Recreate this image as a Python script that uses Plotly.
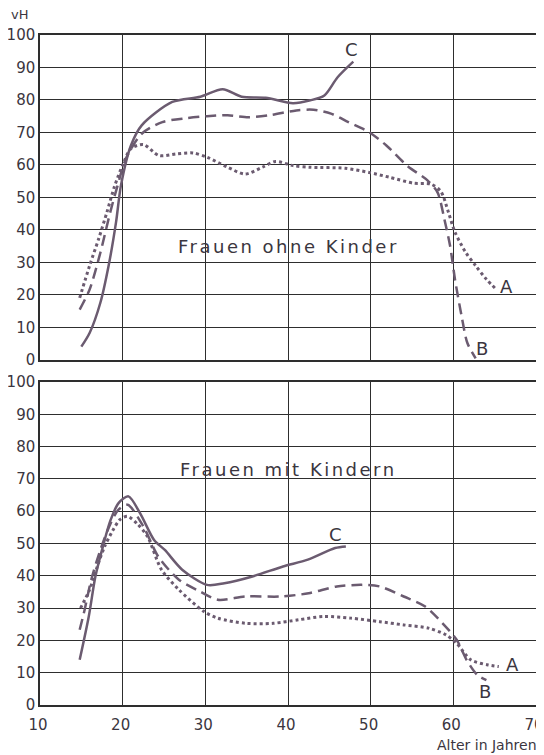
import plotly.graph_objects as go
from plotly.subplots import make_subplots

# ---- Data: Frauen ohne Kinder (top) ----
top_A_age = [14.8, 16.0, 17.1, 18.1, 19.0, 20.0, 21.0, 22.5, 24.4, 26.5, 28.5, 30.2, 32.7, 34.8, 36.9, 38.5,
             40.6, 42.7, 46.9, 49.8, 52.3, 55.2, 57.3, 58.5, 59.4, 60.2, 61.5, 62.7, 64.0, 65.2]
top_A_val = [19.1, 29.0, 37.3, 45.5, 53.3, 60.0, 65.0, 66.3, 62.9, 63.4, 63.7, 62.4, 59.3, 57.2, 59.3, 61.1,
             59.8, 59.3, 59.0, 57.7, 56.2, 54.4, 54.1, 51.8, 45.5, 39.3, 33.1, 29.0, 24.8, 21.7]
top_B_age = [14.8, 16.0, 17.3, 18.5, 19.4, 20.4, 22.3, 24.8, 27.7, 30.2, 32.7, 35.2, 37.7, 41.0, 43.1, 45.2,
             47.3, 49.8, 51.9, 54.4, 56.9, 58.1, 58.9, 59.6, 60.2, 61.0, 61.7, 62.7]
top_B_val = [15.5, 21.7, 33.0, 45.5, 53.8, 62.0, 69.6, 73.2, 74.4, 75.0, 75.3, 74.7, 75.3, 76.8, 77.0, 75.8,
             73.2, 70.1, 66.0, 59.8, 55.2, 51.5, 43.5, 35.2, 24.8, 13.5, 5.2, 0.5]
top_C_age = [15.0, 16.0, 17.3, 18.3, 19.2, 19.8, 21.0, 22.3, 26.0, 29.4, 32.1, 34.4, 37.3, 40.6, 42.7, 44.4,
             46.0, 47.9]
top_C_val = [4.1, 8.3, 17.6, 29.0, 42.4, 53.8, 66.0, 72.2, 79.4, 81.0, 83.3, 81.0, 80.7, 79.0, 79.9, 81.4,
             87.0, 91.8]

# ---- Data: Frauen mit Kindern (bottom) ----
bot_A_age = [14.9, 16.0, 16.8, 17.8, 18.8, 19.7, 20.6, 21.8, 23.0, 24.7, 26.8, 29.8, 31.5, 34.9, 38.2, 41.3,
             44.3, 47.6, 51.1, 54.0, 57.0, 59.1, 60.4, 62.1, 64.2, 65.5]
bot_A_val = [30.0, 35.7, 41.9, 49.0, 54.0, 57.5, 58.4, 56.0, 52.2, 41.9, 35.7, 29.0, 26.9, 25.3, 25.3, 26.4,
             27.4, 26.9, 25.8, 24.8, 23.8, 21.7, 19.1, 14.0, 12.4, 11.9]
bot_B_age = [14.8, 15.4, 16.2, 17.3, 18.5, 19.5, 20.6, 22.5, 24.3, 26.8, 29.4, 31.5, 34.9, 39.1, 42.5, 45.9,
             48.9, 51.1, 54.0, 56.6, 58.7, 60.4, 61.6, 62.9, 64.0]
bot_B_val = [23.3, 29.5, 38.8, 48.0, 56.0, 60.5, 62.0, 55.3, 46.0, 38.8, 35.1, 32.6, 33.6, 33.6, 34.6, 36.7,
             37.2, 36.7, 33.6, 30.5, 25.3, 20.2, 14.0, 9.3, 7.7]
bot_C_age = [14.8, 15.9, 16.7, 17.5, 18.5, 19.5, 20.7, 22.1, 23.8, 25.1, 27.2, 30.2, 32.3, 35.7, 39.4, 42.4,
             45.7, 47.0]
bot_C_val = [14.0, 27.4, 39.8, 48.0, 57.0, 62.5, 64.6, 59.4, 51.1, 48.0, 41.9, 37.2, 37.7, 39.8, 42.9, 45.0,
             48.6, 49.1]

x_ticks = [10, 20, 30, 40, 50, 60, 70]
y_ticks = [0, 10, 20, 30, 40, 50, 60, 70, 80, 90, 100]

LINE = "#6b5b70"
GRID = "#2e2e2e"
TXT = "#3b3640"
FONT = "DejaVu Sans"

fig = make_subplots(rows=2, cols=1, vertical_spacing=0.033)

styles = {
    "A": dict(color=LINE, width=3, dash="dot"),
    "B": dict(color=LINE, width=2.5, dash="11px,6px"),
    "C": dict(color=LINE, width=2.5, dash="solid"),
}

for row, series in [(1, [("A", top_A_age, top_A_val), ("B", top_B_age, top_B_val), ("C", top_C_age, top_C_val)]),
                    (2, [("A", bot_A_age, bot_A_val), ("B", bot_B_age, bot_B_val), ("C", bot_C_age, bot_C_val)])]:
    for name, xs, ys in series:
        fig.add_trace(go.Scatter(x=xs, y=ys, mode="lines", name=name, showlegend=False,
                                 line=dict(shape="spline", smoothing=0.8, **styles[name])),
                      row=row, col=1)

for r in (1, 2):
    fig.update_xaxes(range=[10, 70], tickvals=x_ticks, showgrid=True, gridcolor=GRID, gridwidth=1.2,
                     showline=True, linecolor=GRID, linewidth=1.5, mirror=True, zeroline=False,
                     ticks="", ticklabelstandoff=5, ticklabelshift=-2, automargin=False,
                     tickfont=dict(family=FONT, size=15, color=TXT), row=r, col=1)
    fig.update_yaxes(range=[0, 100], tickvals=y_ticks, showgrid=True, gridcolor=GRID, gridwidth=1.2,
                     showline=True, linecolor=GRID, linewidth=1.5, mirror=True, zeroline=False,
                     ticks="", automargin=False,
                     tickfont=dict(family=FONT, size=15, color=TXT), row=r, col=1)
fig.update_xaxes(showticklabels=False, row=1, col=1)

# the page body adds an 8px offset; margins compensate for it
fig.update_layout(
    width=544, height=755,
    margin=dict(l=32, r=16, t=27, b=58),
    paper_bgcolor="#ffffff", plot_bgcolor="#ffffff",
    font=dict(family=FONT, color=TXT),
)
fig.update_layout(yaxis=dict(domain=[0.515, 1.0]), yaxis2=dict(domain=[0.0, 0.482]))

ann = []
title_font = dict(family=FONT, size=18, color=TXT)
ann.append(dict(x=40.1, y=35.0, xref="x", yref="y",
                text='<span style="letter-spacing:2.5px">Frauen ohne Kinder</span>',
                showarrow=False, font=title_font))
ann.append(dict(x=40.0, y=73.0, xref="x2", yref="y2",
                text='<span style="letter-spacing:2.5px">Frauen mit Kindern</span>',
                showarrow=False, font=title_font))
for (x, y, t, xr, yr) in [(66.4, 22.5, "A", "x", "y"), (63.5, 3.6, "B", "x", "y"), (47.7, 95.4, "C", "x", "y"),
                          (67.1, 12.4, "A", "x2", "y2"), (63.8, 4.2, "B", "x2", "y2"), (45.8, 52.7, "C", "x2", "y2")]:
    ann.append(dict(x=x, y=y, xref=xr, yref=yr, text=t, showarrow=False,
                    font=dict(family=FONT, size=18, color=TXT)))
ann.append(dict(x=-0.062, y=1.03, xref="paper", yref="paper", text="vH", showarrow=False,
                xanchor="left", yanchor="middle", font=dict(family=FONT, size=13, color=TXT)))
ann.append(dict(x=1.006, y=-0.06, xref="paper", yref="paper", text="Alter in Jahren", showarrow=False,
                xanchor="right", yanchor="middle", font=dict(family=FONT, size=14, color=TXT)))
fig.update_layout(annotations=ann)

fig.write_html("out.html")
